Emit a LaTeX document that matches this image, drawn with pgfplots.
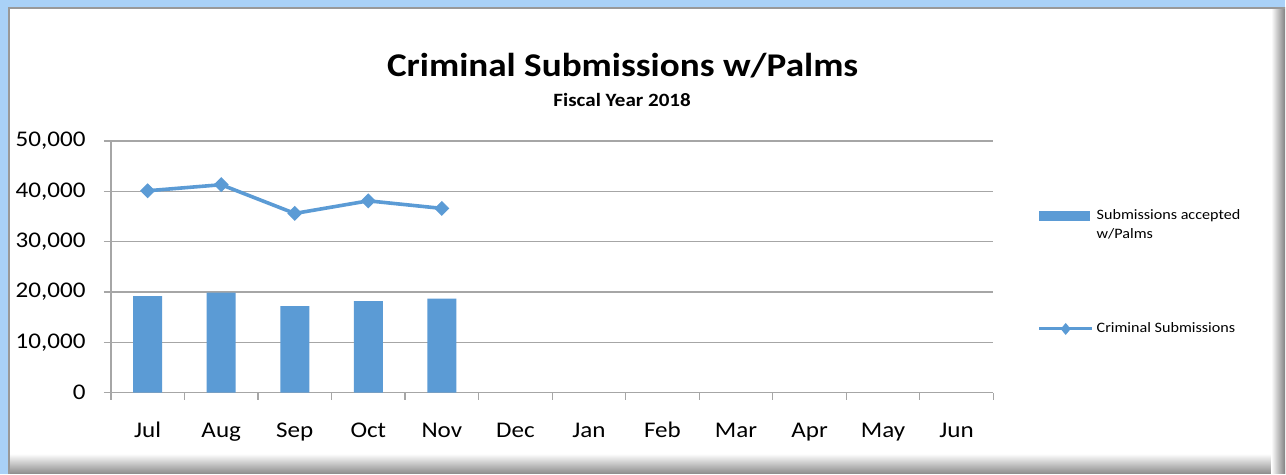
\documentclass[border=0pt]{standalone}
\usepackage{fontspec}
\setmainfont{Carlito}[FakeStretch=1.12]
\usepackage{pgfplots}
\pgfplotsset{compat=1.18}
\definecolor{barblue}{HTML}{5B9BD5}
\definecolor{frameblue}{HTML}{A9D1F7}
\definecolor{gridgray}{HTML}{A6A6A6}
\begin{document}
\begin{tikzpicture}
\fill[frameblue] (0,0) rectangle (643pt,237pt);
\fill[white] (4.5pt,0) rectangle (643pt,233pt);
\shade[top color=white,bottom color=black!45] (4.5pt,0) rectangle (643pt,10pt);
\shade[left color=white,right color=black!50] (636pt,0) rectangle (643pt,233pt);
\draw[black!40, line width=0.8pt] (4.5pt,0) -- (4.5pt,233pt) -- (643pt,233pt);
\node[anchor=base, font=\bfseries\fontsize{16.6pt}{20pt}\selectfont] at (311.5pt,198.5pt) {Criminal Submissions w/Palms};
\node[anchor=base, font=\bfseries\fontsize{9.4pt}{11pt}\selectfont] at (311.25pt,183.6pt) {Fiscal Year 2018};
\begin{axis}[
  at={(55.5pt,40.5pt)}, anchor=south west,
  scale only axis, width=441.5pt, height=126pt,
  xmin=-0.5, xmax=11.5, ymin=0, ymax=50000,
  axis x line*=bottom, axis y line*=left,
  axis line style={gridgray, line width=0.6pt},
  ytick={0,10000,20000,30000,40000,50000},
  ymajorgrids, grid style={gridgray, line width=0.6pt},
  xtick={0,...,11},
  xticklabels={Jul,Aug,Sep,Oct,Nov,Dec,Jan,Feb,Mar,Apr,May,Jun},
  major x tick style={draw=none},
  minor xtick={-0.5,0.5,...,11.5},
  tick align=outside,
  major tick length=3.5pt, minor tick length=3.5pt,
  tick style={gridgray, line width=0.6pt},
  scaled y ticks=false,
  /pgf/number format/.cd, 1000 sep={,}, assume math mode=true, /pgfplots/.cd,
  tick label style={font=\fontsize{11.2pt}{13pt}\selectfont},
  yticklabel style={anchor=east, inner sep=0pt, xshift=-9pt},
  xticklabel style={anchor=base, inner sep=0pt, yshift=-19pt},
  legend style={at={(1.043,0.745)}, anchor=north west, draw=none, fill=none,
    font=\fontsize{7.2pt}{9.5pt}\selectfont, row sep=50pt,
    nodes={inner sep=0pt},
    /tikz/every odd column/.append style={column sep=1.5pt}},
  legend cell align=left,
]
\addplot[ybar, bar width=14.5pt, bar shift=0pt, fill=barblue, draw=none,
  legend image code/.code={\fill[barblue] (0pt,-2.5pt) rectangle (25.5pt,2.5pt);}]
  coordinates {(0,19200) (1,19900) (2,17200) (3,18200) (4,18700)};
\addlegendentry{\parbox[t]{80pt}{Submissions accepted\\w/Palms}}
\addplot[barblue, line width=1.8pt, mark=square*, mark size=2.4pt,
  mark options={rotate=45, fill=barblue, line width=0.5pt},
  legend image code/.code={\draw[barblue,line width=1.5pt] (0pt,0pt)--(26.5pt,0pt);
    \fill[barblue] (13.25pt,1.6pt)--(14.6pt,0pt)--(13.25pt,-1.6pt)--(11.9pt,0pt)--cycle;}]
  coordinates {(0,40100) (1,41300) (2,35600) (3,38100) (4,36600)};
\addlegendentry{Criminal Submissions}
\end{axis}
\end{tikzpicture}
\end{document}
